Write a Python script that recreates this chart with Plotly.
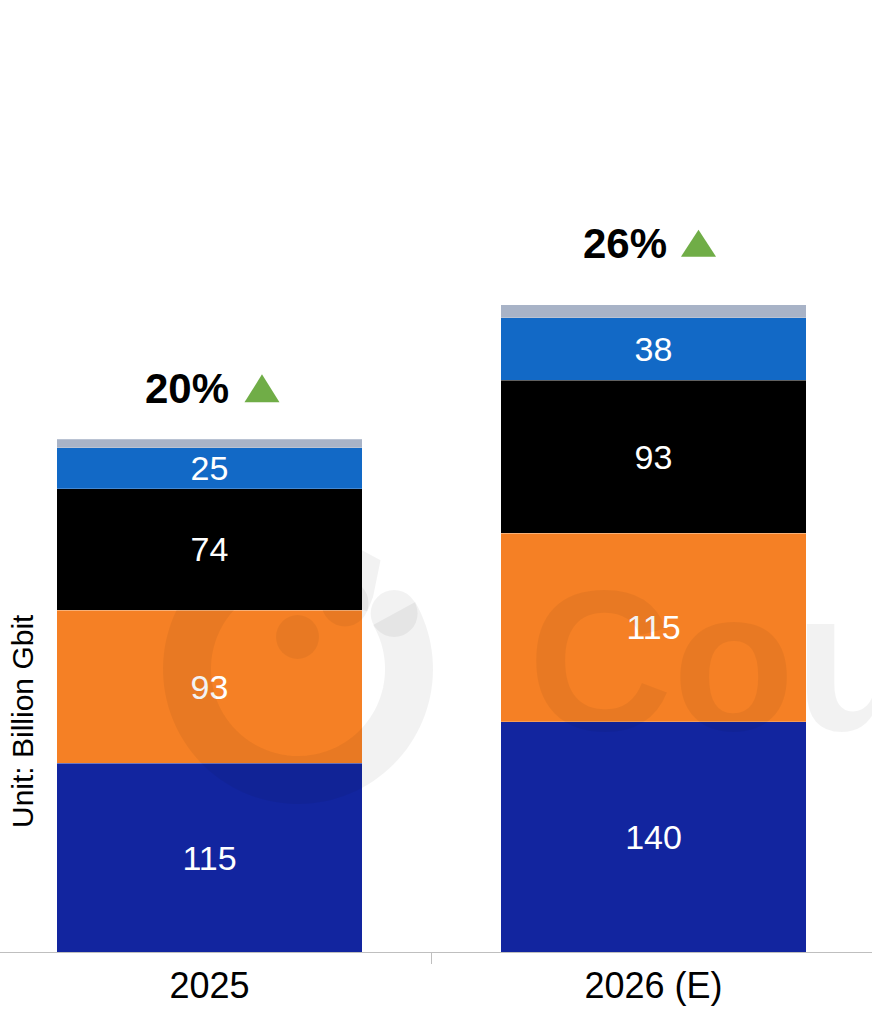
import numpy as np
import plotly.graph_objects as go

# ---- data -------------------------------------------------------------
years = ["2025", "2026 (E)"]
seg_base = [115, 140]      # bottom segment
seg_second = [93, 115]
seg_third = [74, 93]
seg_fourth = [25, 38]
seg_other = [5, 8]         # thin top segment, unlabeled
growth_labels = ["20%", "26%"]

series = [
    ("Segment 1", seg_base, "#12259F", True),
    ("Segment 2", seg_second, "#F58025", True),
    ("Segment 3", seg_third, "#000000", True),
    ("Segment 4", seg_fourth, "#1269C6", True),
    ("Other", seg_other, "#A8B3C7", False),
]

totals = [sum(v) for v in zip(seg_base, seg_second, seg_third, seg_fourth, seg_other)]

# ---- figure geometry ----------------------------------------------------
W, H = 872, 1009
MARGIN_B = 57
PLOT_H = H - MARGIN_B
Y_MAX = 579.4
FONT = "Liberation Sans, Arial, sans-serif"


def px(x):
    return x / W


def py(y):
    return (PLOT_H - y) / PLOT_H


fig = go.Figure()
for name, vals, color, labeled in series:
    fig.add_trace(go.Bar(
        name=name,
        x=years,
        y=vals,
        width=0.688,
        marker=dict(color=color, line=dict(color="rgba(255,255,255,0.35)", width=0.6)),
        text=[str(v) for v in vals] if labeled else None,
        textposition="inside" if labeled else "none",
        insidetextanchor="middle",
        textangle=0,
        textfont=dict(color="white", size=34, family=FONT),
        showlegend=False,
    ))

# growth callouts above each stack
text_dx = [-22, -29]
text_dy = [51, 61]
tri_dx = [(35, 70), (27.5, 62.5)]
tri_dy = [(37, 65), (48, 75)]
for i, tot in enumerate(totals):
    fig.add_annotation(
        x=i, y=tot, xref="x", yref="y",
        text=f"<b>{growth_labels[i]}</b>",
        showarrow=False, xshift=text_dx[i], yshift=text_dy[i],
        xanchor="center", yanchor="middle",
        font=dict(size=42, color="black", family=FONT),
    )
    x0, x1 = tri_dx[i]
    y0, y1 = tri_dy[i]
    fig.add_shape(
        type="path", xref="x", yref="y",
        xsizemode="pixel", ysizemode="pixel",
        xanchor=i, yanchor=tot,
        path=f"M{x0},{y0} L{x1},{y0} L{(x0 + x1) / 2},{y1} Z",
        fillcolor="#70AD47", line=dict(width=0),
    )

# axis title
fig.add_annotation(
    x=px(22), y=py(721), xref="paper", yref="paper",
    text="Unit: Billion Gbit", textangle=-90, showarrow=False,
    xanchor="center", yanchor="middle",
    font=dict(size=30, color="black", family=FONT),
)

# faint brand watermark: ring logo with dot, plus wordmark
WM = "rgba(0,0,0,0.05)"
STROKE = 48
cx, cy, r = 298, 669, 111
ang = np.radians(np.linspace(30, -300, 120))
ring_x = cx + r * np.cos(ang)
ring_y = cy - r * np.sin(ang)
pts = [(px(a), py(b)) for a, b in zip(ring_x, ring_y)]
pts += [(px(350), py(590)), (px(345), py(603))]
ring_path = "M" + " L".join(f"{a:.5f},{b:.5f}" for a, b in pts)
fig.add_shape(type="path", xref="paper", yref="paper", path=ring_path,
              line=dict(color=WM, width=STROKE), layer="above")
# rounded ends of the ring
for ex, ey in [(ring_x[0], ring_y[0]), (345, 603)]:
    h = STROKE / 2 - 0.5
    fig.add_shape(type="circle", xref="paper", yref="paper",
                  x0=px(ex - h), x1=px(ex + h), y0=py(ey + h), y1=py(ey - h),
                  fillcolor=WM, line=dict(width=0), layer="above")
fig.add_shape(type="circle", xref="paper", yref="paper",
              x0=px(276), x1=px(319), y0=py(659), y1=py(615),
              fillcolor=WM, line=dict(width=0), layer="above")
fig.add_annotation(
    x=px(526), y=py(660), xref="paper", yref="paper",
    text="<b>Counterpoint</b>", showarrow=False,
    xanchor="left", yanchor="middle",
    font=dict(size=200, color=WM, family=FONT),
)

fig.update_layout(
    width=W, height=H,
    margin=dict(l=0, r=0, t=0, b=MARGIN_B),
    barmode="stack",
    plot_bgcolor="white", paper_bgcolor="white",
    font=dict(family=FONT, color="black"),
    uniformtext=dict(minsize=34, mode="show"),
    xaxis=dict(
        type="category", range=[-0.4718, 1.4921],
        showline=True, linecolor="#BFBFBF", linewidth=1,
        ticks="outside", tickson="boundaries", ticklen=11, tickcolor="#BFBFBF",
        tickfont=dict(size=36, color="black", family=FONT),
        ticklabelstandoff=2,
        showgrid=False, zeroline=False,
    ),
    yaxis=dict(range=[0, Y_MAX], visible=False),
)

fig.write_html("out.html")
